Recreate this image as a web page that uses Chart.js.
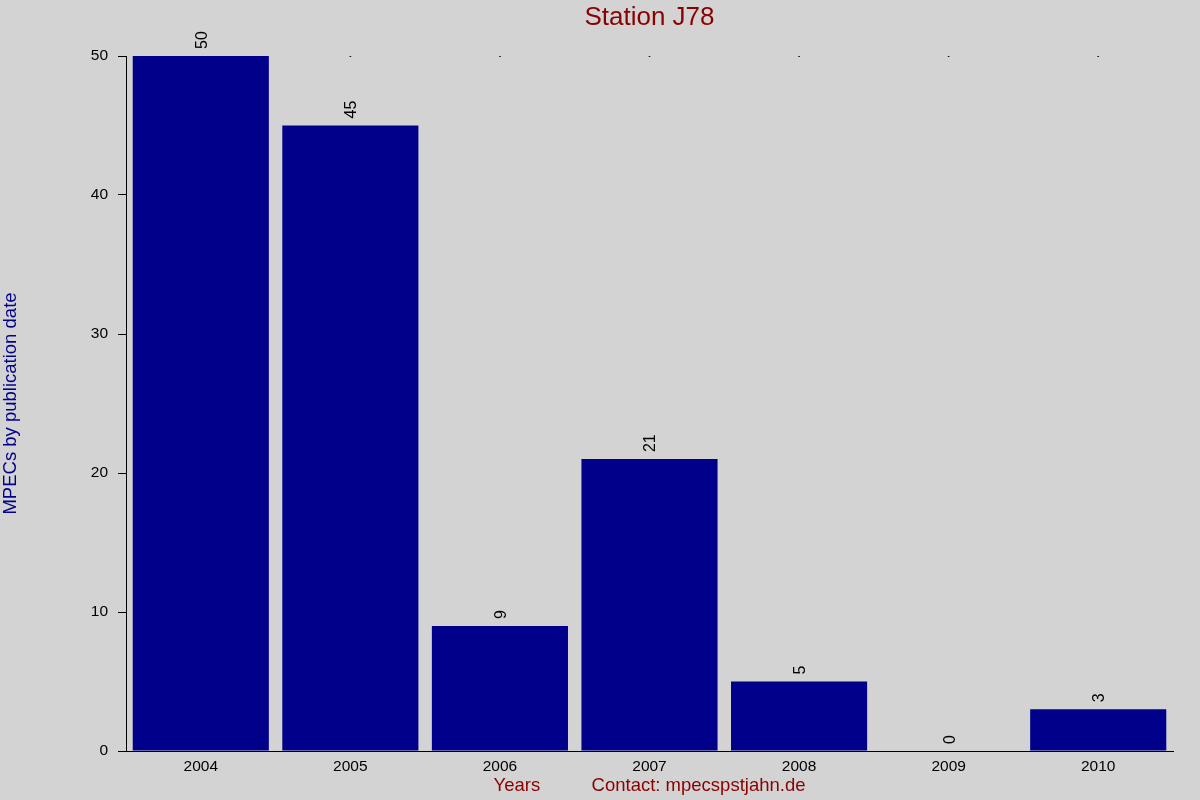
<!DOCTYPE html>
<html>
<head>
<meta charset="utf-8">
<title>Station J78</title>
<script src="https://cdn.jsdelivr.net/npm/chart.js@4"></script>
<style>
  body { margin: 0; background: #d3d3d3; }
</style>
</head>
<body>
<canvas id="stationChart" width="1200" height="800"></canvas>
<script>
const years = ['2004', '2005', '2006', '2007', '2008', '2009', '2010'];
const mpecCounts = [50, 45, 9, 21, 5, 0, 3];
const topDots = [50, 50, 50, 50, 50, 50, 50];
const yTicks = [0, 10, 20, 30, 40, 50];
const chartTitle = 'Station J78';

const fontFamily = '"Liberation Sans", Arial, sans-serif';

// grey background + title centred over the plot area
const backgroundPlugin = {
    id: 'bg',
    beforeDraw(chart) {
        const c = chart.ctx;
        c.save();
        c.fillStyle = '#d3d3d3';
        c.fillRect(0, 0, chart.width, chart.height);
        c.restore();
    },
    afterDraw(chart) {
        const c = chart.ctx;
        const area = chart.chartArea;
        c.save();
        c.fillStyle = '#8b0000';
        c.font = '26px ' + fontFamily;
        c.textAlign = 'center';
        c.textBaseline = 'middle';
        c.fillText(chartTitle, (area.left + area.right) / 2, 18);
        c.restore();
    }
};

// rotated value labels above each bar
const valueLabels = {
    id: 'valueLabels',
    afterDatasetsDraw(chart) {
        const c = chart.ctx;
        const meta = chart.getDatasetMeta(0);
        c.save();
        c.fillStyle = '#000';
        c.font = '16px ' + fontFamily;
        c.textAlign = 'left';
        c.textBaseline = 'middle';
        meta.data.forEach((bar, i) => {
            c.save();
            // glyphs sit a little off the middle line, nudge right
            c.translate(bar.x + 1.5, bar.y - 7);
            c.rotate(-Math.PI / 2);
            c.fillText(String(mpecCounts[i]), 0, 0);
            c.restore();
        });
        c.restore();
    }
};

const ctx = document.getElementById('stationChart').getContext('2d');
const chart = new Chart(ctx, {
    data: {
        labels: years,
        datasets: [{
            type: 'bar',
            label: 'MPECs',
            data: mpecCounts,
            backgroundColor: '#00008b',
            borderWidth: 0,
            categoryPercentage: 0.91,
            barPercentage: 1.0,
            order: 0
        }, {
            type: 'line',
            label: 'marks',
            data: topDots,
            showLine: false,
            pointRadius: 1,
            pointBackgroundColor: '#000',
            pointBorderWidth: 0,
            order: 1
        }]
    },
    options: {
        responsive: false,
        animation: false,
        layout: { padding: { left: 0, right: 27, top: 56, bottom: 0 } },
        plugins: {
            legend: { display: false },
            tooltip: { enabled: false },
            title: { display: false }
        },
        scales: {
            x: {
                offset: true,
                grid: { display: false, drawTicks: false },
                border: { display: true, color: '#000', width: 1 },
                ticks: {
                    color: '#000',
                    padding: 6,
                    font: { family: fontFamily, size: 15.5 }
                },
                title: {
                    display: true,
                    text: 'Years          Contact: mpecspstjahn.de',
                    color: '#8b0000',
                    font: { family: fontFamily, size: 18.5 },
                    padding: { top: 0, bottom: 3 }
                },
                afterFit(scale) { scale.height = 49; }
            },
            y: {
                min: 0,
                max: 50,
                afterBuildTicks(scale) {
                    scale.ticks = yTicks.map(v => ({ value: v }));
                },
                grid: {
                    drawOnChartArea: false,
                    drawTicks: true,
                    tickLength: 8,
                    color: '#000'
                },
                border: { display: true, color: '#000', width: 1 },
                ticks: {
                    color: '#000',
                    padding: 10,
                    font: { family: fontFamily, size: 15.5 }
                },
                title: {
                    display: true,
                    text: 'MPECs by publication date',
                    color: '#00008b',
                    font: { family: fontFamily, size: 18.5 },
                    padding: { top: 0, bottom: 0 }
                },
                afterFit(scale) { scale.width = 126; }
            }
        }
    },
    plugins: [backgroundPlugin, valueLabels]
});
</script>
</body>
</html>
